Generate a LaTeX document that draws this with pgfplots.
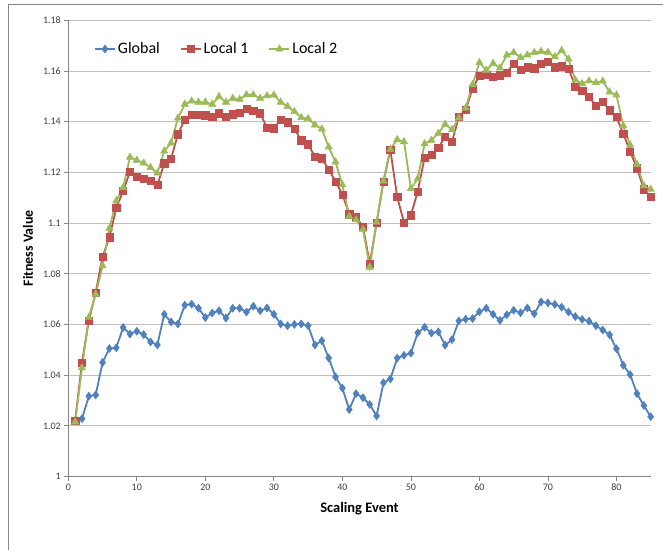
\documentclass[border=0pt]{standalone}
\usepackage{pgfplots}
\pgfplotsset{compat=1.18}
\usepackage{fontspec}
\setmainfont{Carlito}
\definecolor{cglobal}{HTML}{4F81BD}
\definecolor{clocal1}{HTML}{C0504D}
\definecolor{clocal2}{HTML}{9BBB59}
\definecolor{cgrid}{HTML}{BFBFBF}
\definecolor{caxis}{HTML}{868686}
\definecolor{ctick}{HTML}{404040}
\begin{document}
\begin{tikzpicture}
\useasboundingbox (-68.3pt,-72.5pt) rectangle (594.7pt,476.5pt);
\draw[color=caxis, line width=0.8pt] (-60pt,-80pt) -- (-60pt,472.2pt) -- (600pt,472.2pt);
\begin{axis}[
  at={(0pt,0pt)}, anchor=south west,
  scale only axis,
  width=582.4pt, height=456.2pt,
  xmin=0, xmax=85, ymin=1, ymax=1.18,
  xtick={0,10,...,80},
  ytick={1,1.02,1.04,1.06,1.08,1.1,1.12,1.14,1.16,1.18},
  yticklabels={1,1.02,1.04,1.06,1.08,1.1,1.12,1.14,1.16,1.18},
  /pgf/number format/assume math mode=true,
  ticklabel style={font=\fontsize{10}{12}\selectfont, text=ctick},
  axis x line*=bottom, axis y line*=left,
  axis line style={color=caxis, line width=0.75pt, -},
  tick style={color=caxis, line width=0.75pt},
  tick align=outside,
  major tick length=4pt,
  ymajorgrids, grid style={color=cgrid, line width=0.8pt},
  xlabel={Scaling Event}, ylabel={Fitness Value},
  xlabel style={font=\bfseries\fontsize{14.5}{16}\selectfont, at={(axis description cs:0.5,-0.0712)}, anchor=center},
  ylabel style={font=\bfseries\fontsize{14}{16}\selectfont, at={(axis description cs:-0.0692,0.5)}, anchor=center},
  legend columns=3,
  legend style={draw=none, fill=none, inner sep=0pt,
    font=\fontsize{16}{18}\selectfont,
    at={(axis description cs:0.044,0.937)}, anchor=west,
    /tikz/every even column/.append style={column sep=18pt}},
  legend image code/.code={\draw[mark repeat=2,mark phase=2,#1] plot coordinates {(0pt,0pt)(10pt,0pt)(20pt,0pt)};},
  every axis plot/.append style={line width=1.8pt},
]
\addplot[color=cglobal, mark=diamond*, mark size=4pt, mark options={fill=cglobal, draw=cglobal, line width=0.5pt}] coordinates {
(1,1.022)(2,1.0228)(3,1.0317)(4,1.0322)(5,1.045)(6,1.0505)(7,1.0508)(8,1.0588)(9,1.0562)(10,1.0573)
(11,1.056)(12,1.0531)(13,1.0519)(14,1.064)(15,1.061)(16,1.0602)(17,1.0676)(18,1.068)(19,1.0664)(20,1.0627)
(21,1.0645)(22,1.0654)(23,1.0625)(24,1.0664)(25,1.0664)(26,1.0649)(27,1.0672)(28,1.0654)(29,1.0665)(30,1.064)
(31,1.0602)(32,1.0595)(33,1.06)(34,1.0602)(35,1.0595)(36,1.0519)(37,1.0536)(38,1.0468)(39,1.0393)(40,1.0349)
(41,1.0264)(42,1.0327)(43,1.0311)(44,1.0284)(45,1.0239)(46,1.037)(47,1.0385)(48,1.0467)(49,1.0478)(50,1.0487)
(51,1.0567)(52,1.0589)(53,1.0566)(54,1.0571)(55,1.0518)(56,1.054)(57,1.0614)(58,1.0621)(59,1.0623)(60,1.065)
(61,1.0664)(62,1.064)(63,1.0616)(64,1.0638)(65,1.0656)(66,1.0646)(67,1.0665)(68,1.0642)(69,1.0689)(70,1.0685)
(71,1.0679)(72,1.0668)(73,1.0649)(74,1.0631)(75,1.062)(76,1.0613)(77,1.0595)(78,1.0578)(79,1.0559)(80,1.0504)
(81,1.0439)(82,1.0402)(83,1.0327)(84,1.028)(85,1.0236)
};
\addlegendentry{Global}
\addplot[color=clocal1, mark=square*, mark size=3.6pt, mark options={fill=clocal1, draw=clocal1, line width=0.5pt}] coordinates {
(1,1.022)(2,1.045)(3,1.0616)(4,1.0726)(5,1.0867)(6,1.0944)(7,1.1059)(8,1.1126)(9,1.1202)(10,1.1183)
(11,1.1175)(12,1.1166)(13,1.115)(14,1.1236)(15,1.1255)(16,1.135)(17,1.1409)(18,1.1427)(19,1.1427)(20,1.1425)
(21,1.1418)(22,1.1433)(23,1.1419)(24,1.1429)(25,1.1434)(26,1.145)(27,1.1444)(28,1.1433)(29,1.1376)(30,1.1374)
(31,1.1409)(32,1.1398)(33,1.1371)(34,1.1327)(35,1.1311)(36,1.1262)(37,1.1256)(38,1.1211)(39,1.1164)(40,1.1113)
(41,1.1035)(42,1.1024)(43,1.0986)(44,1.0841)(45,1.1001)(46,1.1164)(47,1.1289)(48,1.1103)(49,1.1002)(50,1.1031)
(51,1.1125)(52,1.1258)(53,1.1271)(54,1.1296)(55,1.134)(56,1.1321)(57,1.1418)(58,1.1447)(59,1.153)(60,1.1582)
(61,1.1585)(62,1.1577)(63,1.1583)(64,1.1594)(65,1.1629)(66,1.1604)(67,1.1615)(68,1.1611)(69,1.163)(70,1.1636)
(71,1.1615)(72,1.1619)(73,1.161)(74,1.1538)(75,1.1521)(76,1.1499)(77,1.1462)(78,1.1478)(79,1.1445)(80,1.1418)
(81,1.1353)(82,1.1282)(83,1.1216)(84,1.1133)(85,1.1104)
};
\addlegendentry{Local 1}
\addplot[color=clocal2, mark=triangle*, mark size=4.2pt, mark options={fill=clocal2, draw=clocal2, line width=0.5pt}] coordinates {
(1,1.0215)(2,1.0429)(3,1.0628)(4,1.0719)(5,1.0831)(6,1.0979)(7,1.1088)(8,1.114)(9,1.126)(10,1.1248)
(11,1.1237)(12,1.1219)(13,1.1197)(14,1.1284)(15,1.1316)(16,1.1414)(17,1.1469)(18,1.1481)(19,1.1477)(20,1.1477)
(21,1.1469)(22,1.1499)(23,1.1477)(24,1.1492)(25,1.1488)(26,1.1506)(27,1.1506)(28,1.1492)(29,1.1502)(30,1.1505)
(31,1.1477)(32,1.146)(33,1.144)(34,1.1416)(35,1.1412)(36,1.1387)(37,1.1371)(38,1.13)(39,1.1241)(40,1.1151)
(41,1.1027)(42,1.1013)(43,1.0975)(44,1.0826)(45,1.1004)(46,1.1166)(47,1.1291)(48,1.1329)(49,1.1321)(50,1.1136)
(51,1.1175)(52,1.1313)(53,1.1327)(54,1.1354)(55,1.139)(56,1.1368)(57,1.1414)(58,1.1454)(59,1.1546)(60,1.1633)
(61,1.1603)(62,1.163)(63,1.1612)(64,1.1663)(65,1.1673)(66,1.1653)(67,1.1663)(68,1.1673)(69,1.1677)(70,1.1674)
(71,1.1656)(72,1.1681)(73,1.1647)(74,1.1564)(75,1.155)(76,1.1561)(77,1.1554)(78,1.156)(79,1.1517)(80,1.1505)
(81,1.1384)(82,1.1308)(83,1.1231)(84,1.1147)(85,1.1133)
};
\addlegendentry{Local 2}
\end{axis}
\end{tikzpicture}
\end{document}
